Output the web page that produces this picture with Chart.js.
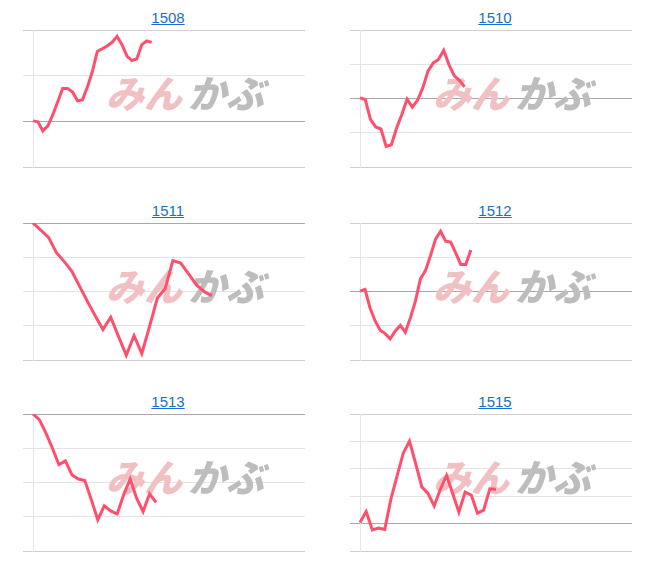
<!DOCTYPE html>
<html>
<head>
<meta charset="utf-8">
<script src="https://cdn.jsdelivr.net/npm/chart.js@4.4.1/dist/chart.umd.min.js"></script>
<style>
  body { margin: 0; background: #fff; font-family: "Liberation Sans", Arial, sans-serif; }
  #board { position: relative; width: 652px; height: 574px; }
  .title { position: absolute; text-align: center; font-size: 15px; line-height: 18px; }
  .title a { color: #1a6ec8; text-decoration: underline; }
  canvas { position: absolute; }
</style>
</head>
<body>
<div id="board"></div>
<script>
// codes and intraday moves (one grid step = 1 unit, 0 = reference price)
const codes = ['1508', '1510', '1511', '1512', '1513', '1515'];
const slots = [56, 53, 36, 55, 43, 45];
const yMin = [-1, -2, -4, -2, -4, -1];
const yMax = [2, 2, 0, 2, 0, 4];

const move1508 = [0.01, -0.01, -0.21, -0.10, 0.14, 0.43, 0.72, 0.72, 0.64, 0.45, 0.47, 0.75, 1.09,
  1.53, 1.59, 1.65, 1.73, 1.86, 1.68, 1.43, 1.33, 1.37, 1.68, 1.76, 1.73];
const move1510 = [0.02, -0.03, -0.61, -0.83, -0.89, -1.40, -1.35, -0.86, -0.47, -0.02, -0.25, -0.05,
  0.31, 0.80, 1.04, 1.14, 1.41, 0.99, 0.67, 0.53, 0.34];
const move1511 = [0, -0.21, -0.42, -0.86, -1.12, -1.41, -1.85, -2.29, -2.71, -3.11, -2.75, -3.31,
  -3.86, -3.29, -3.81, -3.02, -2.19, -1.92, -1.10, -1.17, -1.48, -1.80, -2.00, -2.12];
const move1512 = [0.01, 0.06, -0.48, -0.86, -1.13, -1.23, -1.38, -1.15, -0.99, -1.19, -0.77, -0.28,
  0.37, 0.61, 1.05, 1.53, 1.76, 1.47, 1.44, 1.13, 0.79, 0.79, 1.21];
const move1513 = [0, -0.17, -0.56, -1.00, -1.48, -1.37, -1.77, -1.90, -1.94, -2.50, -3.09, -2.68,
  -2.83, -2.92, -2.36, -1.90, -2.46, -2.85, -2.33, -2.58];
const move1515 = [0.04, 0.44, -0.23, -0.16, -0.21, 0.89, 1.74, 2.57, 3.01, 2.20, 1.34, 1.10, 0.64,
  1.25, 1.76, 1.09, 0.42, 1.15, 1.04, 0.38, 0.49, 1.27, 1.25];
const moves = [move1508, move1510, move1511, move1512, move1513, move1515];

const watermark = {
    id: 'watermark',
    beforeDatasetsDraw(chart) {
        const { ctx, chartArea: a } = chart;
        const cx = (a.left + a.right) / 2 + 16;
        const cy = (a.top + a.bottom) / 2 - 5;
        ctx.save();
        ctx.font = 'italic 900 38px "Noto Sans CJK JP"';
        ctx.textBaseline = 'middle';
        const w1 = ctx.measureText('みん').width;
        const w2 = ctx.measureText('かぶ').width;
        const gap = 6;
        const x = cx - (w1 + w2 + gap) / 2;
        ctx.fillStyle = '#f0c0c3';
        ctx.fillText('みん', x, cy);
        ctx.fillStyle = '#bdbdbd';
        ctx.fillText('かぶ', x + w1 + gap, cy);
        ctx.restore();
    }
};

const board = document.getElementById('board');

function createChart(i) {
    const col = i % 2, row = Math.floor(i / 2);
    const rowTop = [0, 193, 384][row];

    const title = document.createElement('div');
    title.className = 'title';
    title.style.left = (col ? 338 : 10) + 'px';
    title.style.width = (col ? 314 : 316) + 'px';
    title.style.top = (rowTop + 9) + 'px';
    title.innerHTML = '<a href="#">' + codes[i] + '</a>';
    board.appendChild(title);

    const canvas = document.createElement('canvas');
    canvas.width = 286;
    canvas.height = 141;
    canvas.style.left = (col ? 348 : 21) + 'px';
    canvas.style.top = (rowTop + 28) + 'px';
    board.appendChild(canvas);

    const labels = Array.from({ length: slots[i] }, (_, k) => k);

    new Chart(canvas.getContext('2d'), {
        type: 'line',
        data: {
            labels: labels,
            datasets: [{
                data: moves[i],
                borderColor: '#ff4f6d',
                borderWidth: 3,
                pointRadius: 0,
                tension: 0,
                fill: false
            }]
        },
        options: {
            responsive: false,
            animation: false,
            devicePixelRatio: 1,
            layout: { padding: { left: 2, right: 2, top: 2, bottom: 2 } },
            plugins: { legend: { display: false }, tooltip: { enabled: false } },
            scales: {
                x: { display: false },
                y: {
                    min: yMin[i],
                    max: yMax[i],
                    ticks: { display: false, stepSize: 1 },
                    border: { display: true, color: '#e6e6e6' },
                    grid: {
                        tickLength: 10,
                        color: ctx => {
                            const v = ctx.tick ? ctx.tick.value : null;
                            if (v === 0) return '#a9a9a9';
                            if (v === yMin[i] || v === yMax[i]) return '#cfcfcf';
                            return '#e3e3e3';
                        }
                    }
                }
            }
        },
        plugins: [watermark]
    });
}

codes.forEach((c, i) => createChart(i));
</script>
</body>
</html>
